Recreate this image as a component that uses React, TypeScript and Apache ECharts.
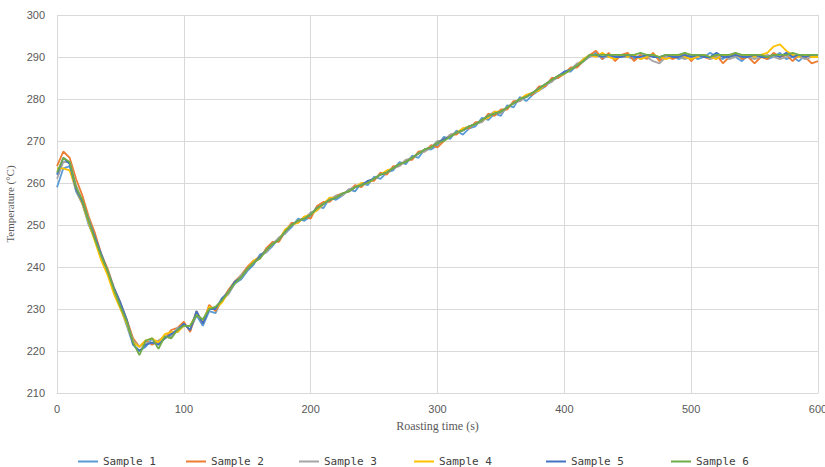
import React, { useEffect, useRef } from "react";
import * as echarts from "echarts";

const times = [
  0, 5, 10, 15, 20, 25, 30, 35, 40, 45,
  50, 55, 60, 65, 70, 75, 80, 85, 90, 95,
  100, 105, 110, 115, 120, 125, 130, 135, 140, 145,
  150, 155, 160, 165, 170, 175, 180, 185, 190, 195,
  200, 205, 210, 215, 220, 225, 230, 235, 240, 245,
  250, 255, 260, 265, 270, 275, 280, 285, 290, 295,
  300, 305, 310, 315, 320, 325, 330, 335, 340, 345,
  350, 355, 360, 365, 370, 375, 380, 385, 390, 395,
  400, 405, 410, 415, 420, 425, 430, 435, 440, 445,
  450, 455, 460, 465, 470, 475, 480, 485, 490, 495,
  500, 505, 510, 515, 520, 525, 530, 535, 540, 545,
  550, 555, 560, 565, 570, 575, 580, 585, 590, 595,
  600,
];

const sample1 = [
  259, 263.5, 264, 258, 255, 250, 246.5, 242, 238.5, 234,
  230.5, 226, 221.5, 220, 221, 223, 221.5, 223, 224.5, 224.5,
  226.5, 225, 228.5, 226, 229.5, 229, 232.5, 233.5, 236, 237,
  239, 240.5, 243, 243.5, 245, 247, 248, 249.5, 251.5, 251,
  252, 254.5, 254, 256.5, 256, 257, 258.5, 258, 260, 259.5,
  261.5, 261, 262.5, 263, 265, 264.5, 266.5, 266, 268, 268,
  269, 271, 270.5, 272.5, 271.5, 273, 273.5, 275.5, 275, 276.5,
  276, 278.5, 278, 280.5, 279.5, 281, 282, 283, 284.5, 285,
  286.5, 286.5, 288, 289.5, 290, 291, 289.5, 290.5, 289.5, 290.5,
  290, 289.5, 290.5, 290, 290.5, 289.5, 290, 290.5, 289.5, 290,
  290.5, 289.5, 290, 291, 290, 289.5, 290.5, 290, 289, 290.5,
  290, 290.5, 289.5, 290, 291, 289.5, 290, 289, 290.5, 290,
  290,
];

const sample2 = [
  264, 267.5, 266, 261, 257, 252, 248, 243, 239.5, 235,
  231.5, 227.5, 223, 221, 222.5, 221.5, 222.5, 223, 225, 225.5,
  227, 224.5, 229.5, 226.5, 231, 229.5, 232, 234.5, 236.5, 238,
  240, 241.5, 242, 244.5, 246, 246, 248.5, 250.5, 250.5, 252,
  251.5, 254.5, 255.5, 255.5, 257, 257.5, 258, 259.5, 259, 260.5,
  260.5, 262.5, 262, 264, 264, 265.5, 265.5, 267.5, 267.5, 269,
  268.5, 270, 271.5, 271.5, 273, 273, 274.5, 274.5, 276.5, 276,
  277.5, 277.5, 279.5, 279.5, 281, 281, 283, 283, 285, 285,
  286, 287.5, 287.5, 289, 290.5, 291.5, 289.5, 291, 289, 290.5,
  291, 289, 290.5, 289.5, 291, 289, 290.5, 289.5, 290, 291,
  289, 290.5, 290, 289.5, 290.5, 288.5, 290, 291, 289.5, 290,
  288.5, 290, 289.5, 291, 290, 290.5, 289, 290.5, 290, 288.5,
  289,
];

const sample3 = [
  261, 265, 265, 259.5, 255.5, 251.5, 247, 242, 239, 234.5,
  231, 227, 222.5, 221, 222, 222, 222.5, 223.5, 223.5, 225.5,
  226, 226, 228.5, 227.5, 230, 230.5, 232, 233.5, 236, 238,
  239.5, 241, 242.5, 243.5, 245.5, 247, 248, 250, 251, 251.5,
  253, 253.5, 255, 256, 257, 257, 258.5, 259, 259.5, 260,
  261, 262, 262.5, 263.5, 264, 265.5, 266, 267, 267.5, 268.5,
  270, 270, 271.5, 272, 272.5, 273.5, 274, 274.5, 276, 277,
  276.5, 278, 279, 279.5, 280.5, 281.5, 282.5, 283.5, 284, 285.5,
  286, 287, 288.5, 289, 290, 290.5, 290, 290, 290.5, 290,
  290, 290.5, 289.5, 290, 289, 288.5, 290, 290.5, 290, 289.5,
  290, 290, 290.5, 289.5, 290, 290.5, 289.5, 290, 290.5, 290,
  289.5, 290, 290.5, 290, 289.5, 290, 290.5, 290, 289.5, 290,
  290,
];

const sample4 = [
  263.5, 263.5, 263, 258.5, 255, 250.5, 246, 241.5, 238, 233.5,
  230, 226.5, 222, 221, 222.5, 223, 222, 224, 224.5, 224.5,
  226, 226, 229, 227, 230.5, 230, 231.5, 234, 236.5, 237.5,
  239.5, 241.5, 242.5, 244, 245.5, 246.5, 249, 250, 250.5, 252,
  252.5, 253.5, 255, 256.5, 256.5, 257.5, 258, 259, 260, 260,
  261, 262, 263, 263.5, 264.5, 265, 266, 267, 268, 268.5,
  269.5, 270.5, 271, 272, 273, 273.5, 274, 275, 275.5, 277,
  277, 278, 279, 280, 281, 281.5, 282, 283.5, 284.5, 285.5,
  286, 287, 288, 289.5, 290.5, 290, 291, 290, 289.5, 290.5,
  290, 290.5, 289.5, 290, 290.5, 290, 289.5, 290, 290.5, 290,
  289.5, 290, 290.5, 290, 289.5, 290.5, 290, 290.5, 290, 290.5,
  290, 290.5, 291, 292.5, 293, 291.5, 290.5, 290, 290.5, 290,
  290,
];

const sample5 = [
  262, 266, 264.5, 258.5, 255.5, 251, 247, 243, 239, 235,
  231.5, 227.5, 221.5, 220, 221.5, 222, 221.5, 223, 224, 225,
  226.5, 225, 229.5, 226.5, 230, 230, 232.5, 234, 236.5, 237.5,
  239.5, 241, 242.5, 244, 245.5, 246.5, 248.5, 250, 251, 251.5,
  252.5, 254, 255, 256, 256.5, 257.5, 258, 259, 259.5, 260.5,
  261, 262, 262.5, 263.5, 264.5, 265, 266, 267, 268, 268.5,
  269.5, 270.5, 271, 272, 272.5, 273.5, 274, 275, 276, 276.5,
  277, 278, 279, 280, 280.5, 281.5, 282.5, 283.5, 284.5, 285.5,
  286.5, 287, 288, 289, 290.5, 290.5, 290, 290.5, 290, 290,
  290.5, 290, 290, 290.5, 290, 290, 290.5, 290, 290, 290.5,
  290, 290.5, 290, 290, 291, 290, 290, 290.5, 290, 290,
  290.5, 290, 290, 290.5, 290, 291, 290, 290.5, 290, 290.5,
  290.5,
];

const sample6 = [
  262.5, 266, 265, 259, 256, 251, 246.5, 242.5, 239, 234.5,
  230.5, 227, 222, 219, 222.5, 223, 220.5, 223.5, 223, 225,
  226, 226, 228.5, 227.5, 230, 230.5, 232, 234, 236, 237.5,
  239.5, 241, 242, 244, 245.5, 246.5, 248.5, 250, 251, 251.5,
  252.5, 254, 255, 256, 256.5, 257.5, 258, 259, 259.5, 260,
  261, 262, 262.5, 263.5, 264.5, 265, 266, 267, 268, 268.5,
  269.5, 270, 271, 272, 272.5, 273.5, 274, 275, 276, 276.5,
  277, 278, 279, 280, 280.5, 281.5, 282.5, 283.5, 284.5, 285.5,
  286, 287, 288, 289, 290.5, 290.5, 290.5, 290.5, 290.5, 290.5,
  290.5, 290.5, 291, 290.5, 290.5, 290, 290.5, 290.5, 290.5, 291,
  290.5, 290.5, 290.5, 290, 290.5, 290.5, 290.5, 291, 290.5, 290.5,
  290.5, 290.5, 290, 290.5, 290.5, 290.5, 291, 290.5, 290.5, 290.5,
  290.5,
];

const seriesNames = ["Sample 1", "Sample 2", "Sample 3", "Sample 4", "Sample 5", "Sample 6"];
const seriesValues = [sample1, sample2, sample3, sample4, sample5, sample6];
const colors = ["#5B9BD5", "#ED7D31", "#A5A5A5", "#FFC000", "#4472C4", "#70AD47"];
const legendLefts = [78, 186, 299, 414, 546, 671];

export default function App() {
  const ref = useRef<HTMLDivElement>(null);
  useEffect(() => {
    if (!ref.current) return;
    const chart = echarts.init(ref.current, undefined, { renderer: "svg" });
    chart.setOption({
      animation: false,
      backgroundColor: "#ffffff",
      grid: { left: 57, right: 7, top: 15, bottom: 74, containLabel: false, outerBoundsMode: "none" },
      legend: seriesNames.map((n, i) => ({
        data: [n],
        left: legendLefts[i],
        top: 456,
        icon: "rect",
        itemWidth: 20,
        itemHeight: 2,
        itemGap: 0,
        padding: 0,
        textStyle: { fontFamily: "DejaVu Sans Mono", fontSize: 11, color: "#404040" },
      })),
      xAxis: {
        type: "value",
        min: 0,
        max: 600,
        interval: 100,
        name: "Roasting time (s)",
        nameLocation: "middle",
        nameGap: 27,
        nameTextStyle: { fontFamily: "Liberation Serif", fontSize: 12, color: "#595959" },
        axisLine: { show: true, lineStyle: { color: "#d9d9d9", width: 1 } },
        axisTick: { show: false },
        axisLabel: { color: "#595959", fontSize: 11, fontFamily: "Liberation Sans", margin: 10 },
        splitLine: { show: true, lineStyle: { color: "#d9d9d9", width: 1 } },
      },
      yAxis: {
        type: "value",
        min: 210,
        max: 300,
        interval: 10,
        name: "Temperature (°C)",
        nameLocation: "middle",
        nameGap: 32,
        nameTextStyle: { fontFamily: "Liberation Serif", fontSize: 11, color: "#595959" },
        axisLine: { show: false },
        axisTick: { show: false },
        axisLabel: { color: "#595959", fontSize: 11, fontFamily: "Liberation Sans", margin: 12 },
        splitLine: { show: true, lineStyle: { color: "#d9d9d9", width: 1 } },
      },
      series: seriesNames.map((n, i) => ({
        name: n,
        type: "line",
        data: times.map((t, j) => [t, seriesValues[i][j]]),
        symbol: "none",
        showSymbol: false,
        lineStyle: { color: colors[i], width: 1.8 },
        itemStyle: { color: colors[i] },
        z: 2 + i,
      })),
    });
    return () => chart.dispose();
  }, []);
  return <div ref={ref} style={{ width: 825, height: 467, position: "absolute", left: 0, top: 0 }} />;
}
